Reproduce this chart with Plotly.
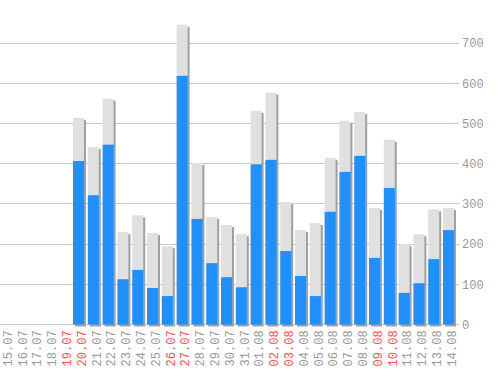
import plotly.graph_objects as go

dates = ["15.07","16.07","17.07","18.07","19.07","20.07","21.07","22.07","23.07","24.07",
         "25.07","26.07","27.07","28.07","29.07","30.07","31.07","01.08","02.08","03.08",
         "04.08","05.08","06.08","07.08","08.08","09.08","10.08","11.08","12.08","13.08","14.08"]
weekend = ["19.07","20.07","26.07","27.07","02.08","03.08","09.08","10.08"]
blue_vals = [0,0,0,0,0,407,322,448,113,136,91,71,619,263,153,118,93,399,410,183,
             121,71,281,380,420,166,340,79,103,163,235]
total_vals = [0,0,0,0,0,514,442,562,230,272,228,195,746,402,268,248,225,532,577,305,
              235,253,415,507,529,290,460,200,225,287,290]
gray_vals = [t - b for t, b in zip(total_vals, blue_vals)]
y_ticks = [0, 100, 200, 300, 400, 500, 600, 700]

W, H = 498, 370
ml, mr, mt, mb = 0, 39, 3, 43
x0, x1 = -0.304, 30.71
y0, y1 = -6, 800
px_x = (W - ml - mr) / (x1 - x0)
px_y = (H - mt - mb) / (y1 - y0)
sh_dx = 2 / px_x
sh_dy = 2 / px_y
bw = 11 / px_x
lbl_dx = 3.5 / px_x

xs = list(range(len(dates)))
fig = go.Figure()
fig.add_trace(go.Bar(x=[i + sh_dx for i in xs], y=total_vals,
                     base=[-sh_dy if t > 0 else 0 for t in total_vals],
                     width=bw, marker=dict(color="#a0a0a0", line_width=0),
                     hoverinfo="skip"))
fig.add_trace(go.Bar(x=xs, y=blue_vals, base=0, width=bw,
                     marker=dict(color="#1e90ff", line_width=0)))
fig.add_trace(go.Bar(x=xs, y=gray_vals, base=blue_vals, width=bw,
                     marker=dict(color="#e0e0e0", line_width=0)))

ticktext = [f"<span style='color:#ff5050'>{d}</span>" if d in weekend else d for d in dates]

fig.update_layout(
    width=W, height=H, barmode="overlay", showlegend=False,
    margin=dict(l=ml, r=mr, t=mt, b=mb, autoexpand=False),
    paper_bgcolor="white", plot_bgcolor="white",
    font=dict(family="Liberation Mono", size=12, color="#999999"),
    xaxis=dict(range=[x0, x1], tickmode="array", tickvals=[i + lbl_dx for i in xs],
               ticktext=ticktext, tickangle=-90, showgrid=False, zeroline=False,
               showline=False, ticks="", automargin=False, ticklabeloverflow="allow"),
    yaxis=dict(range=[y0, y1], side="right", tickmode="array", tickvals=y_ticks,
               showgrid=True, gridcolor="#c8c8c8", gridwidth=1, zeroline=False,
               showline=False, ticks="", ticklabelstandoff=2,
               automargin=False, ticklabeloverflow="allow"),
)
fig.write_html("out.html", config={"displayModeBar": False},
               post_script="document.body.style.margin='0';document.body.style.overflow='hidden';")
